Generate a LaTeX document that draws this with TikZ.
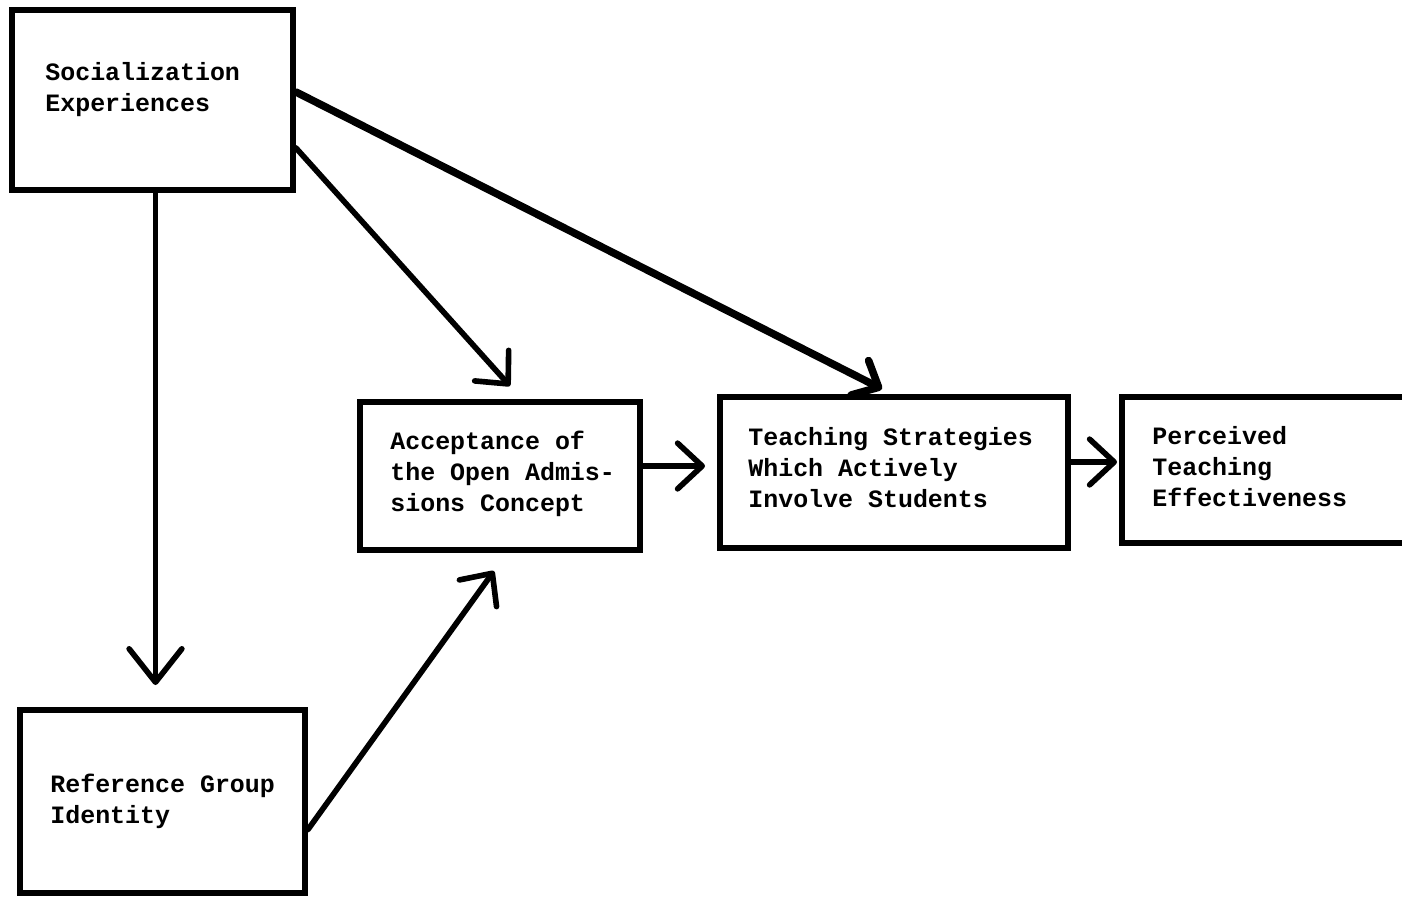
\documentclass[tikz,border=0pt]{standalone}
\usepackage{fontspec}
\newfontfamily\tw{Liberation Mono}
\usetikzlibrary{arrows.meta,calc}
\tikzset{
  box/.style={draw, line width=3.4pt, rectangle, inner sep=0pt},
  lbl/.style={anchor=base west, inner sep=0pt, align=left,
    font=\tw\bfseries\fontsize{14.2pt}{17.6pt}\selectfont},
  conn/.style={line width=3.2pt, line cap=round,
    -{Straight Barb[round, length=14pt, width=26pt]}},
}
\begin{document}
\begin{tikzpicture}[x=0.02cm,y=-0.02cm]
\clip (0,0) rectangle (1402,896);
\fill[white] (0,0) rectangle (1402,896);
% boxes
\node[box, minimum width=281*0.02cm, minimum height=180*0.02cm] (soc) at (152.5,100) {};
\node[box, minimum width=285*0.02cm, minimum height=183*0.02cm] (ref) at (162.5,801.5) {};
\node[box, minimum width=280*0.02cm, minimum height=148*0.02cm] (acc) at (500,476) {};
\node[box, minimum width=348*0.02cm, minimum height=151*0.02cm] (tea) at (894,472.5) {};
\node[box, minimum width=300*0.02cm, minimum height=146*0.02cm] (per) at (1272,470) {};
% labels (anchored at the baseline of the last line)
\node[lbl] (tsoc) at (45,111) {Socialization\\Experiences};
\node[lbl] (tref) at (50,823) {Reference Group\\Identity};
\node[lbl] (tacc) at (390,511) {Acceptance of\\the Open Admis-\\sions Concept};
\node[lbl] (ttea) at (748,507) {Teaching Strategies\\Which Actively\\Involve Students};
\node[lbl] (tper) at (1152,506) {Perceived\\Teaching\\Effectiveness};
% connectors
\draw[conn, -{Straight Barb[round, length=19pt, width=30pt]}] ($(soc.south)+(3,0)$) -- ($(ref.north)+(-7,-22)$);
\draw[conn] ($(soc.east)+(0,48)$) -- ($(acc.north)+(10,-13)$);
\draw[conn, line width=4.3pt, -{Straight Barb[round, length=12pt, width=22pt]}] ($(soc.east)+(0,-8)$) -- ($(tea.north)+(-12,-5)$);
\draw[conn] ($(ref.east)+(0,28)$) -- ($(acc.south)+(-6,18)$);
\draw[conn] (acc.east |- 0,466) -- ($(tea.west |- 0,466)+(-12,0)$);
\draw[conn] (tea.east |- 0,462) -- ($(per.west |- 0,462)+(-2,0)$);
\end{tikzpicture}
\end{document}
